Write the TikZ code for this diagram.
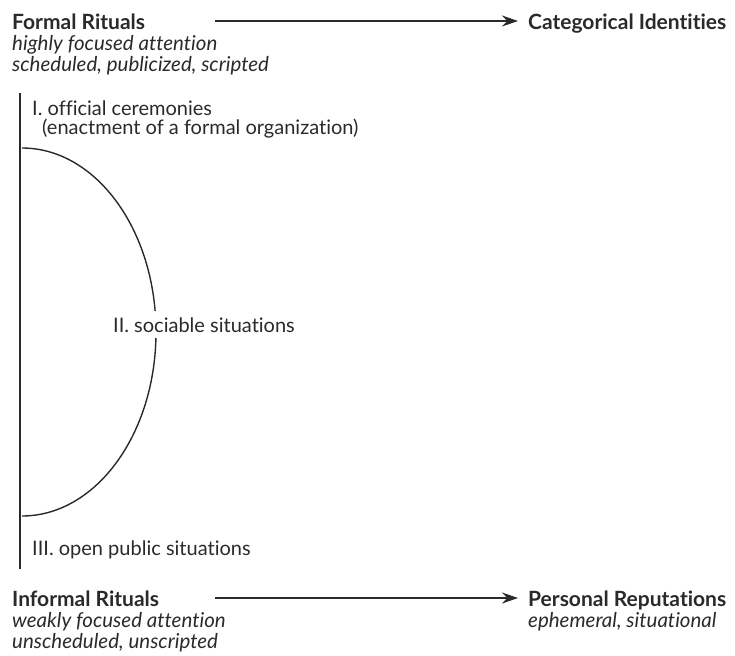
\documentclass[tikz,border=0pt]{standalone}
\usepackage{fontspec}
\setmainfont{Lato}[Ligatures=NoCommon]
\usetikzlibrary{arrows.meta,positioning}
\definecolor{ink}{HTML}{2A2A2A}
\tikzset{
	head/.style={
		font=\fontsize{21}{24}\selectfont\bfseries,
		text=ink,
		anchor=base west,
		inner sep=0pt
	}
}

\begin{document}
\begin{tikzpicture}[x=1pt,y=-1pt]
		\tikzstyle{sub}=[font=\fontsize{20.5}{23}\selectfont\itshape, text=ink, anchor=base west, inner sep=0pt]
		\tikzstyle{kind}=[font=\fontsize{20}{23}\selectfont, text=ink, anchor=base west, inner sep=0pt]
		\tikzstyle{connect}=[draw=ink, line width=1.4pt, -{Stealth[length=16pt,width=11pt]}]
		\useasboundingbox (0,0) rectangle (735,655);

		% top row
		\node[head] (formal) at (12,30) {Formal Rituals};
		\node[sub] (f1) at (12,51) {highly focused attention};
		\node[sub] (f2) at (12,72) {scheduled, publicized, scripted};
		\node[head] (cat) at (528,30) {Categorical Identities};
		\coordinate (fa) at (215,21);

		% the scale
		\node[kind] (one) at (32,116) {I. official ceremonies};
		\node[kind] (one2) at (42,135) {(enactment of a formal organization)};
		\node[kind] (three) at (32,555) {III. open public situations};
		\draw[ink, line width=2pt] (20,93) -- (20,569);
		\draw[ink, line width=1.4pt] (22,148) arc[start angle=-90, end angle=90, x radius=134, y radius=184];
		\node[kind, fill=white, inner ysep=6pt] (two) at (113,332) {II. sociable situations};

		% bottom row
		\node[head] (informal) at (12,606) {Informal Rituals};
		\node[sub] (i1) at (12,627) {weakly focused attention};
		\node[sub] (i2) at (12,648) {unscheduled, unscripted};
		\node[head] (pers) at (528,606) {Personal Reputations};
		\node[sub] (p1) at (528,627) {ephemeral, situational};
		\coordinate (ia) at (215,598);

		\draw[connect, shorten >=10pt] (fa) -- (fa -| cat.west);
		\draw[connect, shorten >=10pt] (ia) -- (ia -| pers.west);
\end{tikzpicture}
\end{document}
